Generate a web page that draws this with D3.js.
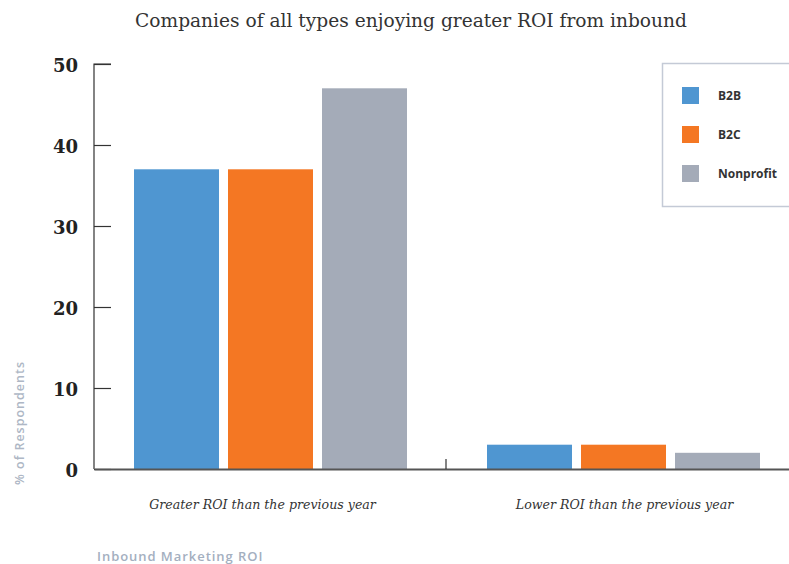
<!DOCTYPE html>
<html><head><meta charset="utf-8">
<script src="https://cdn.jsdelivr.net/npm/d3@7"></script>
<style>body{margin:0;background:#fff}svg{display:block}</style>
</head><body><svg id="c" width="789" height="564"></svg>
<script>
const categories = ["Greater ROI than the previous year", "Lower ROI than the previous year"];
const seriesNames = ["B2B", "B2C", "Nonprofit"];
const b2b = [37, 3];
const b2c = [37, 3];
const nonprofit = [47, 2];
const yTicks = [0, 10, 20, 30, 40, 50];
const colors = ["#4f96d1", "#f47723", "#a4abb8"];

const svg = d3.select("#c");
const y = d3.scaleLinear().domain([0, 50]).range([469, 64]);
const x0 = d3.scaleBand().domain(categories).range([94, 800]).paddingInner(0).paddingOuter(0);
const x1 = d3.scaleBand().domain(seriesNames).range([40, 313]).paddingInner(0.0957).paddingOuter(0);
const series = [b2b, b2c, nonprofit];

// bars
categories.forEach((c, ci) => {
  seriesNames.forEach((s, si) => {
    svg.append("rect")
      .attr("x", x0(c) + x1(s))
      .attr("y", y(series[si][ci]))
      .attr("width", x1.bandwidth())
      .attr("height", y(0) - y(series[si][ci]))
      .attr("fill", colors[si]);
  });
});

// y axis
const yAxis = svg.append("g").attr("transform", "translate(94,0)")
  .call(d3.axisRight(y).tickValues(yTicks).tickSize(17).tickFormat(""));
yAxis.select(".domain").attr("stroke", "#333").attr("stroke-width", 1.2).attr("d", "M17,64H0V469");
yAxis.selectAll(".tick line").attr("stroke", "#333").attr("stroke-width", 1.2);
svg.append("g").selectAll("text").data(yTicks).join("text")
  .attr("x", 78).attr("y", d => y(d) + 8)
  .attr("text-anchor", "end")
  .attr("font-family", "DejaVu Serif, serif").attr("font-weight", "bold")
  .attr("font-size", 18).attr("fill", "#222")
  .text(d => d);

// x axis
const xAxis = svg.append("g").attr("transform", "translate(0,469)")
  .call(d3.axisTop(d3.scaleLinear().domain([0,1]).range([94, 800])).tickValues([]).tickSizeOuter(0));
xAxis.select(".domain").attr("stroke", "#555").attr("stroke-width", 2);
svg.append("line").attr("x1", 446).attr("x2", 446).attr("y1", 459).attr("y2", 469)
  .attr("stroke", "#333").attr("stroke-width", 1.2);

// category labels
svg.append("g").selectAll("text").data(categories).join("text")
  .attr("x", (d, i) => x0(d) + x0.bandwidth() / 2 + (i === 0 ? -8 : 1))
  .attr("y", 509)
  .attr("text-anchor", "middle")
  .attr("font-family", "DejaVu Serif, serif").attr("font-style", "italic")
  .attr("font-size", 12.6).attr("fill", "#333")
  .text(d => d);

// title
svg.append("text").attr("x", 411).attr("y", 27).attr("text-anchor", "middle")
  .attr("font-family", "DejaVu Serif, serif").attr("font-size", 18.6).attr("fill", "#333")
  .text("Companies of all types enjoying greater ROI from inbound");

// y label
svg.append("text").attr("transform", "translate(24,423) rotate(-90)")
  .attr("text-anchor", "middle").attr("font-family", "Open Sans, sans-serif")
  .attr("font-weight", 600).attr("font-size", 12.5).attr("fill", "#aeb7c5")
  .attr("letter-spacing", 1)
  .text("% of Respondents");

// footer
svg.append("text").attr("x", 97).attr("y", 561)
  .attr("font-family", "Open Sans, sans-serif").attr("font-weight", 600)
  .attr("font-size", 13).attr("fill", "#a4afbf").attr("letter-spacing", 0.95)
  .text("Inbound Marketing ROI");

// legend
const lg = svg.append("g");
lg.append("rect").attr("x", 662.5).attr("y", 63.5).attr("width", 140).attr("height", 143)
  .attr("fill", "#fff").attr("stroke", "#c4cad6").attr("stroke-width", 1.5);
seriesNames.forEach((s, i) => {
  const yy = 87 + i * 39;
  lg.append("rect").attr("x", 682).attr("y", yy).attr("width", 17).attr("height", 17).attr("fill", colors[i]);
  lg.append("text").attr("x", 718).attr("y", yy + 13)
    .attr("font-family", "Open Sans, sans-serif").attr("font-weight", "bold")
    .attr("font-size", 12).attr("fill", "#333").text(s);
});
</script></body></html>
